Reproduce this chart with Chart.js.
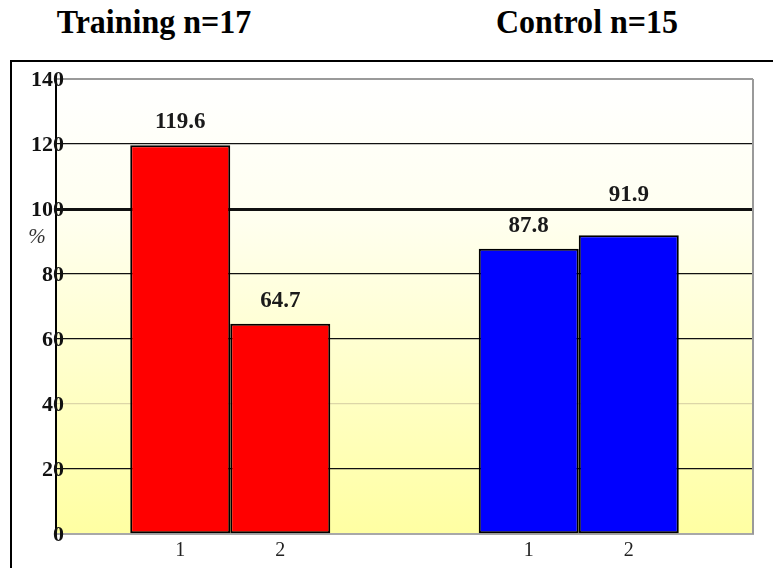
<!DOCTYPE html>
<html>
<head>
<meta charset="utf-8">
<script src="https://cdn.jsdelivr.net/npm/chart.js@4/dist/chart.umd.min.js"></script>
<style>
  html, body { margin: 0; padding: 0; background: #fff; }
  body { width: 773px; height: 568px; position: relative; overflow: hidden; }
  .group-title {
    position: absolute; top: 6px;
    font: bold 33px "Liberation Serif", "Times New Roman", serif;
    line-height: 33px; color: #000; white-space: nowrap;
    transform: translateX(-50%) scaleX(0.97);
  }
  #frame {
    position: absolute; left: 10px; top: 60px;
    width: 800px; height: 600px;
    border: 2px solid #000; box-sizing: border-box;
  }
  #wrap { position: absolute; left: 12px; top: 62px; width: 761px; height: 506px; }
</style>
</head>
<body>
<div id="frame"></div>
<div class="group-title" id="t0" style="left:154px"></div>
<div class="group-title" id="t1" style="left:587px"></div>
<div id="wrap"><canvas id="c" width="761" height="506"></canvas></div>
<script>
// Groups and the two measurement points
const groups = ['Training n=17', 'Control n=15'];
const timePoints = ['1', '2'];
const time1Values = [119.6, 87.8];
const time2Values = [64.7, 91.9];
const groupColors = ['#FF0000', '#0000FF'];
const referenceValue = 100;
const yMax = 140;
const yStep = 20;
const yUnit = '%';

document.getElementById('t0').textContent = groups[0];
document.getElementById('t1').textContent = groups[1];

const serif = '"Liberation Serif", "Times New Roman", serif';

// Soft white-to-yellow fill behind the plot, right frame edge, axis labels
const plotDecor = {
  id: 'plotDecor',
  beforeDraw(chart) {
    const { ctx, chartArea: a } = chart;
    const g = ctx.createLinearGradient(0, a.top, 0, a.bottom);
    g.addColorStop(0, '#FFFFFF');
    g.addColorStop(0.3, '#FFFFF0');
    g.addColorStop(1, '#FFFFA2');
    ctx.save();
    ctx.fillStyle = g;
    ctx.fillRect(a.left, a.top, a.right - a.left, a.bottom - a.top);
    ctx.restore();
  },
  afterDraw(chart) {
    const { ctx, chartArea: a } = chart;
    const y = chart.scales.y;
    ctx.save();
    ctx.strokeStyle = '#9a9a9a';
    ctx.lineWidth = 2;
    ctx.beginPath();
    ctx.moveTo(a.right, a.top);
    ctx.lineTo(a.right, a.bottom);
    ctx.stroke();
    // value-axis tick labels, overlapping the axis line slightly
    ctx.fillStyle = '#111';
    ctx.font = 'bold 22px ' + serif;
    ctx.textAlign = 'right';
    ctx.textBaseline = 'middle';
    y.ticks.forEach(t => {
      ctx.fillText(String(t.value), a.left + 8, y.getPixelForValue(t.value) + 1);
    });
    // unit label beside the value axis
    ctx.fillStyle = '#333';
    ctx.font = 'italic 21px ' + serif;
    ctx.textAlign = 'center';
    ctx.fillText(yUnit, a.left - 19, y.getPixelForValue(referenceValue) + 28);
    ctx.restore();
  }
};

// Value labels above bars and time-point labels under each bar
const barLabels = {
  id: 'barLabels',
  afterDatasetsDraw(chart) {
    const { ctx, chartArea: a } = chart;
    const refY = chart.scales.y.getPixelForValue(referenceValue);
    ctx.save();
    ctx.textAlign = 'center';
    ctx.textBaseline = 'middle';
    chart.data.datasets.forEach((ds, di) => {
      const meta = chart.getDatasetMeta(di);
      meta.data.forEach((bar, i) => {
        let ly = bar.y - 23;
        if (Math.abs(ly - refY) < 12) ly = refY - 14;
        ctx.fillStyle = '#1a1a1a';
        ctx.font = 'bold 23px ' + serif;
        ctx.fillText(ds.data[i].toFixed(1), bar.x, ly);
        ctx.fillStyle = '#222';
        ctx.font = '20px ' + serif;
        ctx.fillText(timePoints[di], bar.x, a.bottom + 17);
      });
    });
    ctx.restore();
  }
};

function gridColor(ctx) {
  const v = ctx.tick && ctx.tick.value;
  if (v === 0) return 'rgba(0,0,0,0)';
  if (v === yMax) return '#9a9a9a';
  if (v === 40) return '#dcd6a8';
  return '#111';
}
function gridWidth(ctx) {
  const v = ctx.tick && ctx.tick.value;
  if (v === referenceValue) return 3;
  if (v === yMax) return 2;
  return 1.3;
}

new Chart(document.getElementById('c'), {
  type: 'bar',
  data: {
    labels: groups,
    datasets: [
      { label: timePoints[0], data: time1Values, backgroundColor: groupColors,
        borderColor: '#000', borderWidth: 2, borderSkipped: false },
      { label: timePoints[1], data: time2Values, backgroundColor: groupColors,
        borderColor: '#000', borderWidth: 2, borderSkipped: false }
    ]
  },
  options: {
    responsive: false,
    animation: false,
    devicePixelRatio: 1,
    layout: { padding: { top: 17, right: 20, left: 0, bottom: 0 } },
    datasets: { bar: { barPercentage: 1, categoryPercentage: 0.574 } },
    plugins: { legend: { display: false }, tooltip: { enabled: false }, title: { display: false } },
    scales: {
      x: {
        ticks: { display: false },
        grid: { display: false },
        border: { color: '#a8a8a8', width: 2 },
        afterFit(s) { s.height = 34; }
      },
      y: {
        min: 0, max: yMax,
        ticks: { stepSize: yStep, display: false },
        grid: { color: gridColor, lineWidth: gridWidth, drawTicks: false },
        border: { color: '#000', width: 2 },
        afterFit(s) { s.width = 44; }
      }
    }
  },
  plugins: [plotDecor, barLabels]
});
</script>
</body>
</html>
